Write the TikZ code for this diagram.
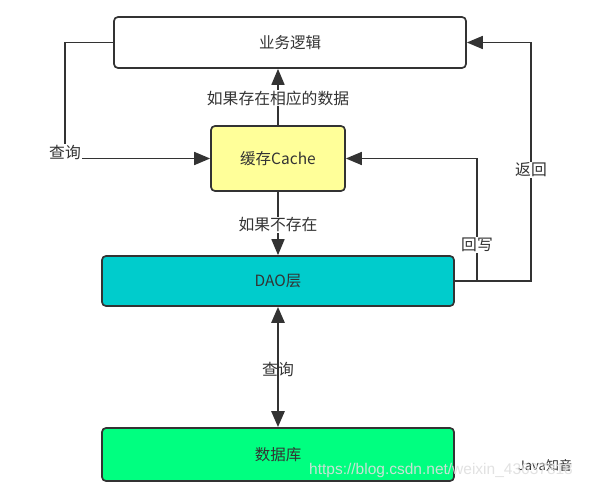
\documentclass[tikz,border=0pt]{standalone}
\usepackage{fontspec}
\setmainfont{Noto Sans CJK SC}
\newfontfamily\urlfont{Liberation Sans}
\usetikzlibrary{arrows.meta}
\definecolor{linec}{HTML}{333333}
\definecolor{cachey}{HTML}{FFFF99}
\definecolor{daoc}{HTML}{00CCCC}
\definecolor{dbc}{HTML}{00FF80}
\tikzset{
  box/.style={draw=linec, line width=1.7pt, rounded corners=4pt, text=linec,
    font=\fontsize{15.5}{18}\selectfont, inner sep=0pt},
  conn/.style={draw=linec, line width=1.7pt, -{Triangle[length=16pt,width=13pt]}},
  lbl/.style={fill=white, text=linec, font=\fontsize{15.8}{18}\selectfont, inner sep=1pt},
}
\begin{document}
\begin{tikzpicture}[x=1pt,y=-1pt]
\useasboundingbox[fill=white] (0,0) rectangle (592,492);
\node[box, fill=white, minimum width=352pt, minimum height=51pt] (biz) at (290,42.5) {业务逻辑};
\node[box, fill=cachey, minimum width=134pt, minimum height=65pt] (cache) at (278,158.5) {缓存Cache};
\node[box, fill=daoc, minimum width=352pt, minimum height=50pt] (dao) at (278,281) {DAO层};
\node[box, fill=dbc, minimum width=352pt, minimum height=53pt] (db) at (278,454.5) {数据库};

\coordinate (lq) at (65,100);
\coordinate (wb) at (477,281);
\coordinate (rt) at (531,281);

% left query path
\draw[conn] (biz.west) -| (lq) |- (cache.west);
\node[lbl] (lq1) at (65,152) {查询};
% cache -> biz
\draw[conn] (cache.north) -- (cache.north |- biz.south);
\node[lbl] (l2) at (278,98) {如果存在相应的数据};
% cache -> dao
\draw[conn] (cache.south) -- (dao.north);
\node[lbl] (l3) at (278,225) {如果不存在};
% write back
\draw[conn] (dao.east) -- (wb) |- (cache.east);
\node[lbl] (l4) at (477,245) {回写};
% return
\draw[conn] (dao.east) -- (rt) |- (biz.east);
\node[lbl] (l5) at (531,170) {返回};
% dao <-> db
\draw[draw=linec, line width=2.6pt, {Triangle[length=16pt,width=13pt]}-{Triangle[length=16pt,width=13pt]}] (dao.south) -- (db.north);
\node[text=linec, font=\fontsize{15.8}{18}\selectfont, inner sep=0pt] (l6) at (278,369) {查询};

% watermark
\node[text=linec, font=\fontsize{13}{15}\selectfont, inner sep=0pt] (wm1) at (545,466) {Java知音};
\node[text=gray!25, opacity=0.9, font=\urlfont\fontsize{15.5}{18}\selectfont, inner sep=0pt, anchor=west] (wm2) at (309,470) {https://blog.csdn.net/weixin\_43637818};
\end{tikzpicture}
\end{document}
